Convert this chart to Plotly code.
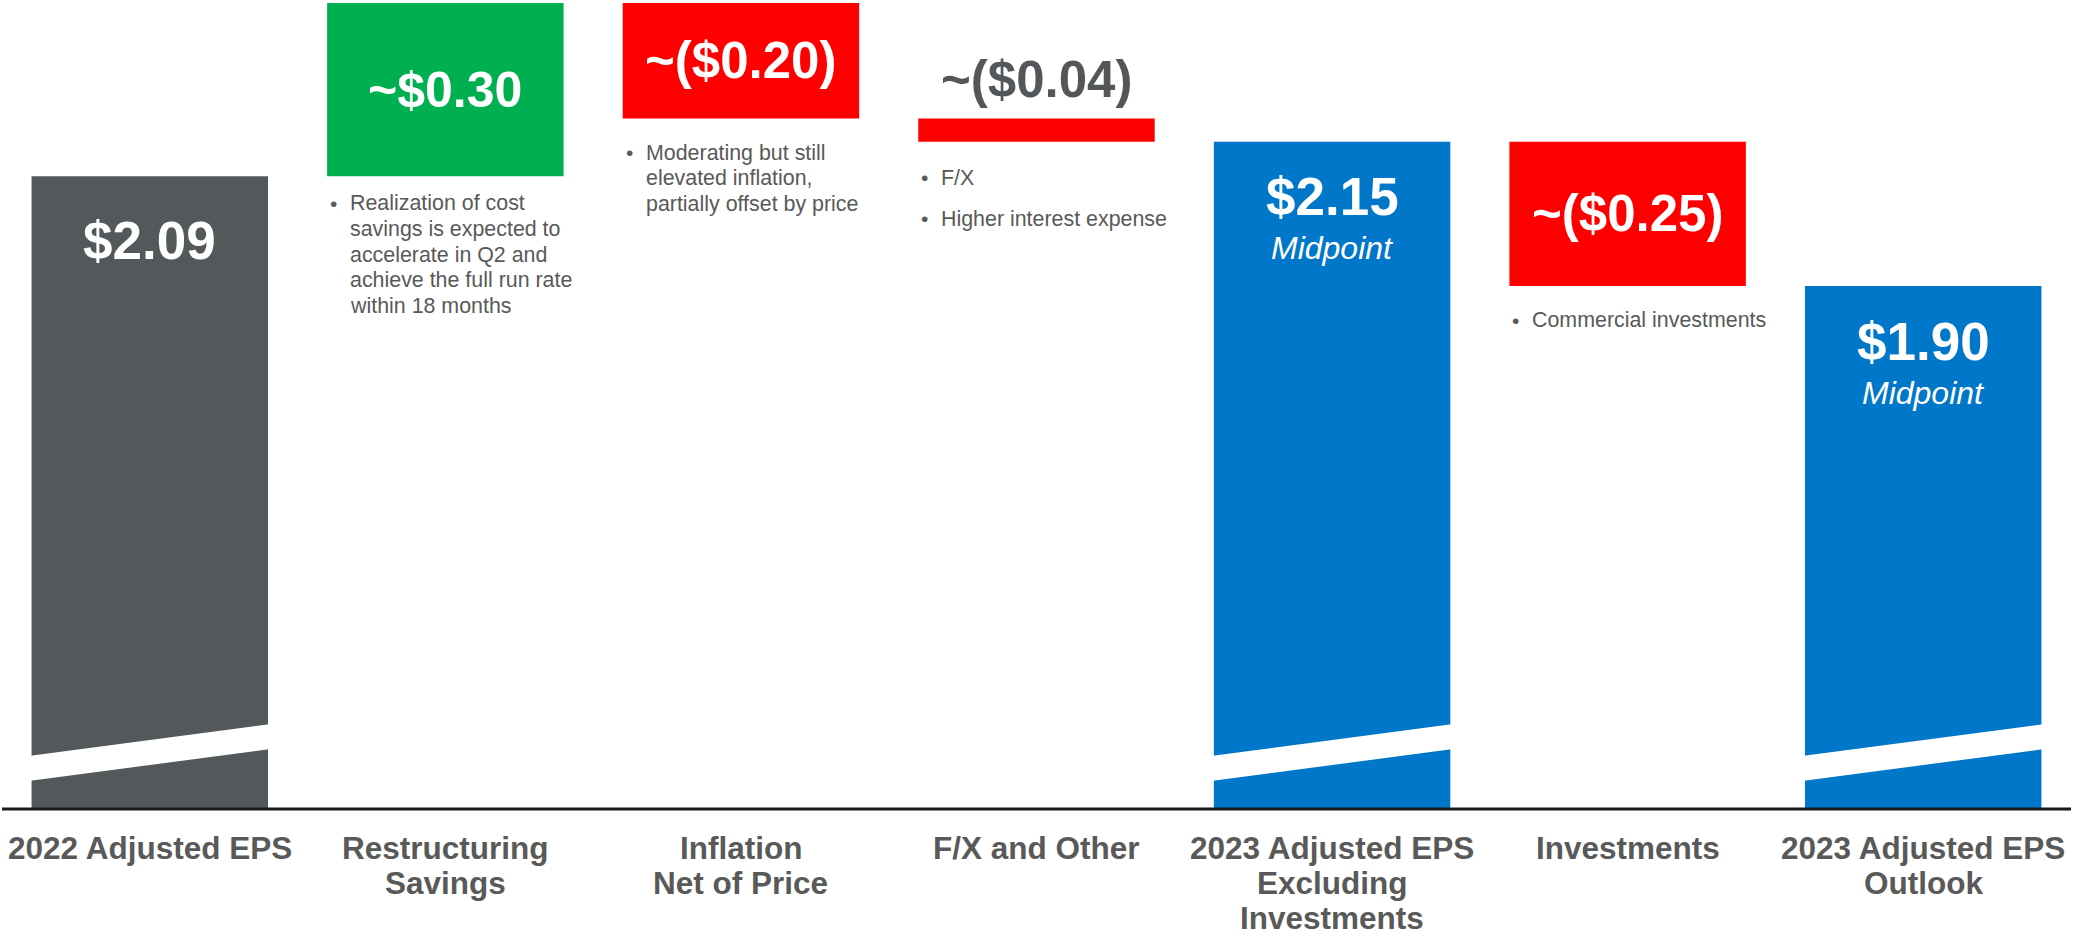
import plotly.graph_objects as go

# ---------------- data ----------------
categories = ["2022 Adjusted EPS", "Restructuring<br>Savings", "Inflation<br>Net of Price",
              "F/X and Other", "2023 Adjusted EPS<br>Excluding<br>Investments",
              "Investments", "2023 Adjusted EPS<br>Outlook"]
measures = ["total", "relative", "relative", "relative", "total", "relative", "total"]
values = [2.09, 0.30, -0.20, -0.04, 2.15, -0.25, 1.90]
value_labels = ["$2.09", "~$0.30", "~($0.20)", "~($0.04)", "$2.15", "~($0.25)", "$1.90"]
sub_labels = ["", "", "", "", "Midpoint", "", "Midpoint"]
notes = [
    [],
    [["Realization of cost", "savings is expected to", "accelerate in Q2 and",
      "achieve the full run rate", "within 18 months"]],
    [["Moderating but still", "elevated inflation,", "partially offset by price"]],
    [["F/X"], ["Higher interest expense"]],
    [],
    [["Commercial investments"]],
    [],
]

# ---------------- style ----------------
bar_colors = ["#53585B", "#00B050", "#FF0000", "#FF0000", "#0077C8", "#FF0000", "#0077C8"]
label_colors = ["white", "white", "white", "#53575A", "white", "white", "white"]
label_sizes = [53, 50, 51, 51, 53, 51, 53]
TEXT_GREY = "#595959"
FONT = "Liberation Sans, Arial, sans-serif"
Y_RANGE = [0.9946, 2.3952]          # broken axis window
BREAK_LOW = (1.0431, 1.0984)        # lower edge of break band (left, right)
BREAK_HIGH = (1.0863, 1.1417)       # upper edge of break band (left, right)
BAR_W = 0.8
label_shift = [-64, 0, 0, 39, -55, 0, -55]   # px offset of value label
sub_shift = [0, 0, 0, 0, -106, 0, -107]
note_first = [0, 27, 34, 36, 0, 34, 0]       # px below bar bottom of first note line
LINE_GAP = 25.7
PARA_GAP = 41
CAT_FIRST = 39      # px below baseline of first category line centre
CAT_GAP = 35

# ---------------- waterfall geometry from data ----------------
bases, heights, tops, bottoms = [], [], [], []
running = 0.0
for m, v in zip(measures, values):
    if m == "total":
        b, h = Y_RANGE[0], v - Y_RANGE[0]
        running = v
    else:
        b = running if v >= 0 else running + v
        h = abs(v)
        running += v
    bases.append(b)
    heights.append(h)
    tops.append(b + h)
    bottoms.append(b)

xs = list(range(len(categories)))

fig = go.Figure()
fig.add_trace(go.Bar(
    x=xs, y=heights, base=bases, width=BAR_W,
    marker=dict(color=bar_colors, line=dict(width=0)),
    hoverinfo="skip", showlegend=False,
))

annotations = []
shapes = []

for i in xs:
    # value labels
    if measures[i] == "total" or label_shift[i] > 0:
        y = tops[i]
    else:
        y = (tops[i] + bottoms[i]) / 2
    annotations.append(dict(
        x=i, y=y, xref="x", yref="y", text="<b>%s</b>" % value_labels[i],
        showarrow=False, yanchor="middle", xanchor="center", yshift=label_shift[i],
        font=dict(family=FONT, size=label_sizes[i], color=label_colors[i]),
    ))
    if sub_labels[i]:
        annotations.append(dict(
            x=i, y=tops[i], xref="x", yref="y", text="<i>%s</i>" % sub_labels[i],
            showarrow=False, yanchor="middle", xanchor="center", yshift=sub_shift[i],
            font=dict(family=FONT, size=32, color="white"),
        ))
    # bullet notes
    offset = note_first[i]
    for para in notes[i]:
        annotations.append(dict(
            x=i - BAR_W / 2, y=bottoms[i], xref="x", yref="y", text="•",
            showarrow=False, xanchor="left", yanchor="middle", xshift=1, yshift=-offset,
            font=dict(family=FONT, size=21, color=TEXT_GREY),
        ))
        for k, line in enumerate(para):
            annotations.append(dict(
                x=i - BAR_W / 2, y=bottoms[i], xref="x", yref="y", text=line,
                showarrow=False, xanchor="left", yanchor="middle", xshift=21,
                yshift=-(offset + k * LINE_GAP),
                font=dict(family=FONT, size=21.4, color=TEXT_GREY),
            ))
        offset += (len(para) - 1) * LINE_GAP + PARA_GAP
    # category labels (one annotation per line)
    for k, line in enumerate(categories[i].split("<br>")):
        annotations.append(dict(
            x=i, y=0, xref="x", yref="paper", text="<b>%s</b>" % line,
            showarrow=False, xanchor="center", yanchor="middle", borderpad=0,
            yshift=-(CAT_FIRST + k * CAT_GAP),
            font=dict(family=FONT, size=31.5, color=TEXT_GREY),
        ))
    # axis break on total bars
    if measures[i] == "total":
        x0, x1 = i - BAR_W / 2 - 0.01, i + BAR_W / 2 + 0.01
        shapes.append(dict(
            type="path", xref="x", yref="y",
            path="M %f,%f L %f,%f L %f,%f L %f,%f Z" % (
                x0, BREAK_LOW[0], x1, BREAK_LOW[1], x1, BREAK_HIGH[1], x0, BREAK_HIGH[0]),
            fillcolor="white", line=dict(width=0), layer="above",
        ))

# baseline
shapes.append(dict(type="line", xref="paper", yref="paper", x0=0, x1=1, y0=0, y1=0,
                   line=dict(color="#1A1A1A", width=3), layer="above"))

fig.update_layout(
    width=2073, height=937,
    margin=dict(l=2, r=2, t=0, b=128),
    paper_bgcolor="white", plot_bgcolor="white",
    bargap=0.2,
    xaxis=dict(range=[-0.5, len(categories) - 0.5], showgrid=False, zeroline=False,
               showticklabels=False, showline=False, fixedrange=True),
    yaxis=dict(range=Y_RANGE, showgrid=False, zeroline=False, showticklabels=False,
               showline=False, fixedrange=True),
    annotations=annotations, shapes=shapes,
    font=dict(family=FONT),
)

fig.write_html("out.html", config={"displayModeBar": False})
